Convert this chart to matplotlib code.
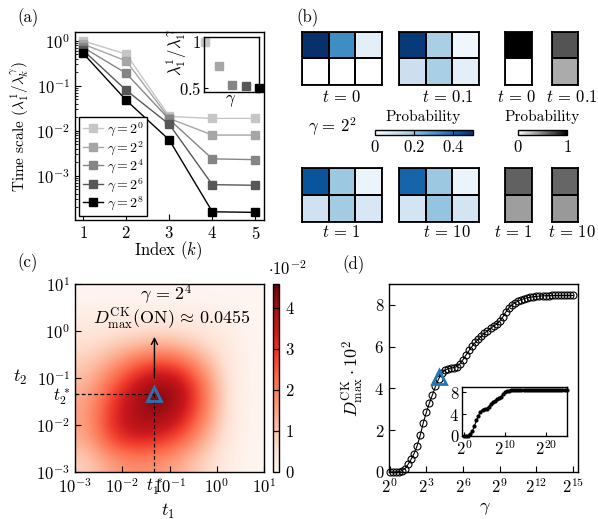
import numpy as np
import matplotlib.pyplot as plt
from matplotlib.colors import ListedColormap
from matplotlib.ticker import NullLocator

plt.rcParams.update({
    'font.family': 'serif',
    'font.serif': ['cmr10'],
    'mathtext.fontset': 'cm',
    'axes.unicode_minus': False,
    'axes.formatter.use_mathtext': True,
    'font.size': 11,
    'xtick.direction': 'in',
    'ytick.direction': 'in',
    'axes.linewidth': 1.0,
})

W, H = 598, 519

# ---- panel (a): time scales ----
index_k = [1, 2, 3, 4, 5]
gamma_labels = [r'$\gamma = 2^{0}$', r'$\gamma = 2^{2}$', r'$\gamma = 2^{4}$',
                r'$\gamma = 2^{6}$', r'$\gamma = 2^{8}$']
gamma_colors = ['#c6c6c6', '#a6a6a6', '#858585', '#575757', '#000000']
ts_g0 = [1.0, 0.51, 0.021, 0.019, 0.019]
ts_g2 = [0.85, 0.36, 0.019, 0.0081, 0.0081]
ts_g4 = [0.72, 0.19, 0.018, 0.0024, 0.0023]
ts_g6 = [0.62, 0.08, 0.014, 6.4e-4, 6.2e-4]
ts_g8 = [0.53, 0.048, 0.0063, 1.6e-4, 1.55e-4]
inset_log2g = [0, 2, 4, 6, 8]
inset_ratio = [1.0, 0.74, 0.53, 0.52, 0.5]

# ---- panel (b): occupation probabilities ----
blue_t0 = [[0.63, 0.32, 0.05], [0.0, 0.0, 0.0]]
blue_t01 = [[0.48, 0.17, 0.02], [0.11, 0.17, 0.05]]
blue_t1 = [[0.43, 0.19, 0.03], [0.10, 0.18, 0.08]]
blue_t10 = [[0.40, 0.19, 0.03], [0.09, 0.20, 0.09]]
grey_t0 = [[1.0], [0.0]]
grey_t01 = [[0.67], [0.33]]
grey_t1 = [[0.62], [0.38]]
grey_t10 = [[0.60], [0.40]]

# ---- panel (c): D(t1, t2) in units of 1e-2, half-decade cells, log10 t from -3 to 1 ----
# rows: t2 from 10^-3 (bottom) to 10^1 (top); columns: t1 from 10^-3 to 10^1
D_grid = [
    [0.80, 1.50, 1.80, 1.70, 1.30, 0.70, 0.20, 0.00],
    [1.40, 2.90, 3.50, 3.30, 2.60, 1.40, 0.30, 0.00],
    [1.50, 3.00, 4.00, 4.30, 3.70, 2.00, 0.40, 0.00],
    [1.30, 2.50, 3.70, 4.55, 4.00, 2.20, 0.40, 0.00],
    [0.90, 1.60, 2.50, 3.10, 2.70, 1.50, 0.35, 0.00],
    [0.55, 0.70, 0.95, 1.15, 0.95, 0.60, 0.30, 0.00],
    [0.24, 0.26, 0.28, 0.28, 0.28, 0.24, 0.12, 0.00],
    [0.00, 0.00, 0.00, 0.00, 0.00, 0.00, 0.00, 0.00],
]
t1_star = 0.048
t2_star = 0.046

# ---- panel (d): D_max vs gamma ----
gamma_exp = np.arange(0, 15.01, 0.25)
dmax = [0.00, 0.00, 0.00, 0.02, 0.06, 0.16, 0.36, 0.60, 0.88, 1.25,
        1.75, 2.35, 2.85, 3.30, 3.70, 4.10, 4.45, 4.72, 4.86, 4.94,
        4.98, 5.00, 5.05, 5.18, 5.38, 5.60, 5.82, 6.02, 6.20, 6.36,
        6.50, 6.64, 6.76, 6.88, 6.98, 7.08, 7.22, 7.42, 7.66, 7.86,
        8.00, 8.10, 8.18, 8.25, 8.30, 8.34, 8.37, 8.39, 8.41, 8.42,
        8.43, 8.44, 8.44, 8.45, 8.45, 8.45, 8.45, 8.45, 8.45, 8.45, 8.45]
inset_exp = np.arange(0, 25.01, 0.5)
inset_dmax = [0.00, 0.00, 0.06, 0.36, 0.88, 1.75, 2.85, 3.70, 4.45, 4.86,
              4.98, 5.05, 5.38, 5.82, 6.20, 6.50, 6.76, 6.98, 7.22, 7.66,
              8.00, 8.18, 8.30, 8.37, 8.41, 8.43, 8.44, 8.45, 8.45, 8.45,
              8.45, 8.45, 8.45, 8.45, 8.45, 8.45, 8.45, 8.45, 8.45, 8.45,
              8.45, 8.45, 8.45, 8.45, 8.45, 8.45, 8.45, 8.45, 8.45, 8.45, 8.45]

fig = plt.figure(figsize=(W / 100, H / 100), dpi=100)


def add_ax(x0, y0, x1, y1):
    return fig.add_axes([x0 / W, 1 - y1 / H, (x1 - x0) / W, (y1 - y0) / H])


def ftext(x, y, s, **kw):
    kw.setdefault('ha', 'center')
    kw.setdefault('va', 'center')
    fig.text(x / W, 1 - y / H, s, **kw)


# ================= (a) =================
ax = add_ax(75, 32, 264, 220)
for ts, lab, col in zip([ts_g0, ts_g2, ts_g4, ts_g6, ts_g8], gamma_labels, gamma_colors):
    ax.plot(index_k, ts, '-s', color=col, ms=5.5, lw=1, label=lab, clip_on=False)
ax.set_yscale('log')
ax.set_xlim(0.81, 5.2)
ax.set_ylim(1.05e-4, 1.58)
ax.set_xticks(index_k)
ax.set_yticks([1e-3, 1e-2, 1e-1, 1])
ax.tick_params(which='major', length=4, labelsize=12)
ax.tick_params(which='minor', length=2)
leg = ax.legend(loc='lower left', fancybox=False, edgecolor='k', framealpha=1,
                handlelength=1.5, borderaxespad=0.3, labelspacing=0.05,
                handletextpad=0.25, borderpad=0.25, fontsize=10)
leg.get_frame().set_linewidth(1.0)
ftext(20, 127, r'Time scale $(\lambda_1^1/\lambda_k^\gamma)$', rotation=90, fontsize=11)
ftext(168, 251, r'Index $(k)$', fontsize=12)
ftext(28, 18, '(a)', fontsize=12)

axi = add_ax(204, 37, 259, 92)
for xg, r, col in zip(inset_log2g, inset_ratio, gamma_colors):
    axi.plot(xg, r, 's', color=col, ms=6, clip_on=False)
axi.set_xlim(-0.15, 8)
axi.set_ylim(0.457, 1.054)
axi.set_xticks([])
axi.set_yticks([0.5, 1])
axi.set_yticklabels(['$0.5$', '$1$'])
axi.tick_params(length=3, labelsize=12, pad=2)
ftext(177, 52, r'$\lambda_1^1/\lambda_1^\gamma$', rotation=90, fontsize=12)
ftext(231, 101, r'$\gamma$', fontsize=12)

# ================= (b) =================
ftext(308, 18, '(b)', fontsize=12)
cell_top = (32, 85)
cell_bot = (168, 222)
blue_cols = plt.get_cmap('Blues')(np.linspace(0, 1, 256))
blue_cols[0] = [1, 1, 1, 1]
blues_w = ListedColormap(blue_cols)


def grid_panel(x0, x1, yy, data, cmap, vmax):
    a = add_ax(x0, yy[0], x1, yy[1])
    arr = np.array(data)
    m = a.pcolormesh(arr, cmap=cmap, vmin=0, vmax=vmax, edgecolors='k', linewidth=1.3)
    a.set_xlim(0, arr.shape[1])
    a.set_ylim(arr.shape[0], 0)
    a.set_xticks([])
    a.set_yticks([])
    for s in a.spines.values():
        s.set_linewidth(1.3)
    return m


mb = grid_panel(302, 382, cell_top, blue_t0, blues_w, 0.5)
grid_panel(399, 479, cell_top, blue_t01, blues_w, 0.5)
mg = grid_panel(505, 532, cell_top, grey_t0, 'gray_r', 1.0)
grid_panel(552, 578, cell_top, grey_t01, 'gray_r', 1.0)
grid_panel(302, 382, cell_bot, blue_t1, blues_w, 0.5)
grid_panel(399, 479, cell_bot, blue_t10, blues_w, 0.5)
grid_panel(505, 532, cell_bot, grey_t1, 'gray_r', 1.0)
grid_panel(552, 578, cell_bot, grey_t10, 'gray_r', 1.0)

for x, y, s in [(342, 97, r'$t\,=\,0$'), (448, 97, r'$t\,=\,0.1$'), (517, 97, r'$t\,=\,0$'),
                (572, 97, r'$t\,=\,0.1$'), (341, 232, r'$t\,=\,1$'), (447, 232, r'$t\,=\,10$'),
                (513, 232, r'$t\,=\,1$'), (572, 232, r'$t\,=\,10$')]:
    ftext(x, y, s, fontsize=12)
ftext(332, 127, r'$\gamma\,=\,2^{2}$', fontsize=12)

cb_blue = add_ax(375, 130, 473, 135)
cbb = fig.colorbar(mb, cax=cb_blue, orientation='horizontal', ticks=[0, 0.2, 0.4])
cbb.ax.set_xticklabels(['$0$', '$0.2$', '$0.4$'])
cbb.ax.tick_params(length=0, labelsize=12, pad=3)
for v in [0.2, 0.4]:
    cbb.ax.axvline(v, color='k', lw=0.9)
cbb.outline.set_linewidth(1.0)
ftext(423, 117, 'Probability', fontsize=11)

cb_grey = add_ax(518, 130, 567, 135)
cbg = fig.colorbar(mg, cax=cb_grey, orientation='horizontal', ticks=[0, 1])
cbg.ax.set_xticklabels(['$0$', '$1$'])
cbg.ax.tick_params(length=0, labelsize=12, pad=3)
cbg.outline.set_linewidth(1.0)
ftext(542, 117, 'Probability', fontsize=11)

# ================= (c) =================
ax_img = add_ax(75, 284, 264, 472)
im = ax_img.imshow(np.array(D_grid), extent=(-3, 1, -3, 1), origin='lower', cmap='Reds',
                   vmin=0, vmax=4.58, interpolation='bicubic', aspect='auto')
ax_img.axis('off')

axc = add_ax(75, 284, 264, 472)
axc.set_facecolor('none')
axc.set_xscale('log')
axc.set_yscale('log')
axc.set_xlim(1e-3, 1e1)
axc.set_ylim(1e-3, 1e1)
axc.xaxis.set_minor_locator(NullLocator())
axc.yaxis.set_minor_locator(NullLocator())
dec = [1e-3, 1e-2, 1e-1, 1e0, 1e1]
dec_lab = ['$10^{-3}$', '$10^{-2}$', '$10^{-1}$', '$10^{0}$', '$10^{1}$']
axc.set_xticks(dec + [t1_star])
axc.set_xticklabels(dec_lab + ['$t_1^*$'])
axc.set_yticks(dec + [t2_star])
axc.set_yticklabels(dec_lab + ['$t_2^*$'])
axc.tick_params(length=4, labelsize=12)
axc.xaxis.get_major_ticks()[-1].tick1line.set_visible(False)
axc.yaxis.get_major_ticks()[-1].tick1line.set_visible(False)
axc.plot([1e-3, t1_star], [t2_star, t2_star], 'k--', lw=0.9, dashes=(3, 2))
axc.plot([t1_star, t1_star], [1e-3, t2_star], 'k--', lw=0.9, dashes=(3, 2))
axc.annotate('', xy=(t1_star, 0.75), xytext=(t1_star, 0.1),
             arrowprops=dict(arrowstyle='->', lw=1.0, color='k', shrinkA=0, shrinkB=0))
axc.plot(t1_star, t2_star, '^', ms=10, mfc='none', mec='#1f77b4', mew=2)
ftext(166, 295, r'$\gamma\,=\,2^{4}$', fontsize=13)
ftext(172, 319, r'$D^{\mathrm{CK}}_{\max}(\mathrm{ON})\,\approx\,0.0455$', fontsize=13)
ftext(20, 377, '$t_2$', fontsize=13)
ftext(168, 511, '$t_1$', fontsize=13)
ftext(28, 263, '(c)', fontsize=12)

cax = add_ax(273, 284, 279, 472)
cb = fig.colorbar(im, cax=cax, ticks=[0, 1, 2, 3, 4])
cb.ax.set_yticklabels(['$0$', '$1$', '$2$', '$3$', '$4$'])
cb.ax.tick_params(length=0, labelsize=12, pad=4)
for v in [1, 2, 3, 4]:
    cb.ax.axhline(v, color='k', lw=0.9)
cb.outline.set_linewidth(1.0)
ftext(287, 269, r'$\cdot 10^{-2}$', fontsize=12)

# ================= (d) =================
axd = add_ax(389, 284, 578, 472)
axd.set_xscale('log', base=2)
axd.plot(2.0 ** gamma_exp, dmax, '-o', color='k', mfc='none', ms=5, lw=0.8, mew=0.8,
         clip_on=False)
axd.plot(2.0 ** 4, 4.55, '^', ms=10, mfc='none', mec='#1f77b4', mew=2, zorder=5)
axd.set_xlim(2 ** -0.05, 2 ** 15.4)
axd.set_ylim(0, 9)
axd.xaxis.set_minor_locator(NullLocator())
xt = [0, 3, 6, 9, 12, 15]
axd.set_xticks([2.0 ** e for e in xt])
axd.set_xticklabels(['$2^{%d}$' % e for e in xt])
axd.set_yticks([0, 2, 4, 6, 8])
axd.set_yticklabels(['$0$', '$2$', '$4$', '$6$', '$8$'])
axd.tick_params(length=4, labelsize=12)
ftext(353, 378, r'$D^{\mathrm{CK}}_{\max}\cdot 10^{2}$', rotation=90, fontsize=13)
ftext(485, 509, r'$\gamma$', fontsize=13)
ftext(353, 265, '(d)', fontsize=12)

axdi = add_ax(462, 387, 567, 436)
axdi.set_xscale('log', base=2)
axdi.plot(2.0 ** inset_exp, inset_dmax, '-o', color='k', ms=2, lw=0.8, clip_on=False)
axdi.set_xlim(2 ** -0.5, 2 ** 25.1)
axdi.set_ylim(0, 9)
axdi.xaxis.set_minor_locator(NullLocator())
axdi.set_xticks([2.0 ** 0, 2.0 ** 10, 2.0 ** 20])
axdi.set_xticklabels(['$2^{0}$', '$2^{10}$', '$2^{20}$'])
axdi.set_yticks([0, 4, 8])
axdi.set_yticklabels(['$0$', '$4$', '$8$'])
axdi.tick_params(length=3, labelsize=12, pad=2)

fig.savefig('out.png', dpi=100)
